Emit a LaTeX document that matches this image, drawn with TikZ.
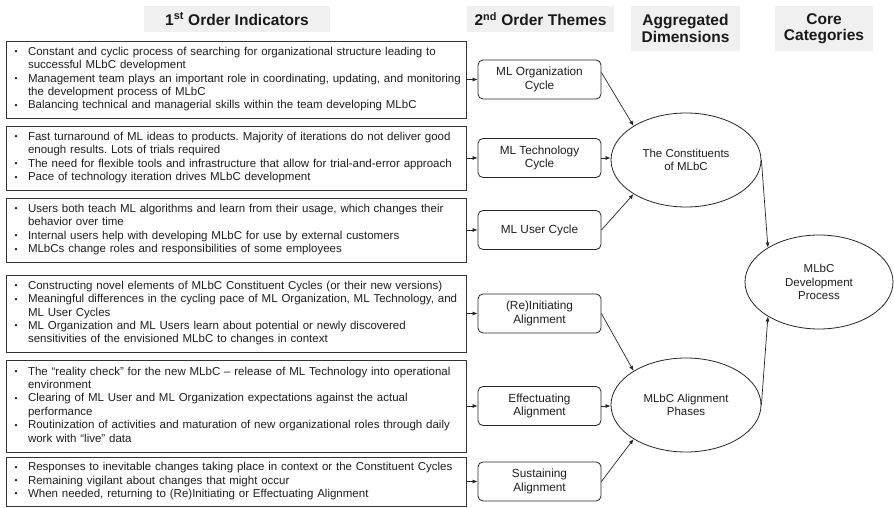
\documentclass[tikz,border=0pt]{standalone}
\usepackage{fontspec}
\setmainfont{Liberation Sans}
\usetikzlibrary{shapes.geometric,arrows.meta,calc}
\frenchspacing

% bullet column for the indicator lists
\newcommand\bu{\makebox[15pt][l]{\hspace{1.5pt}\raisebox{0.6pt}{\scalebox{0.75}{\textbullet}}}}
\newcommand\bulletrows[1]{\begin{tabular}{@{}l@{}l@{}}#1\end{tabular}}

\tikzset{
  ind/.style={draw=black!80, line width=0.8pt, text width=446pt, inner xsep=7pt,
    inner ysep=0pt, align=left, text=black!88,
    font=\fontsize{11.5pt}{13.4pt}\selectfont},
  theme/.style={draw=black!85, line width=0.8pt, rounded corners=5pt,
    minimum width=123pt, minimum height=39pt, inner sep=0pt, align=center,
    text=black!88, font=\fontsize{11.8pt}{13.6pt}\selectfont},
  dim/.style={ellipse, draw=black!85, line width=0.8pt, minimum width=150pt,
    minimum height=94pt, inner sep=0pt, align=center, text=black!88,
    font=\fontsize{11.5pt}{13.6pt}\selectfont},
  hdr/.style={fill=black!6, inner sep=0pt, align=center, text=black!90,
    font=\bfseries\fontsize{15.5pt}{16.5pt}\selectfont},
  arr/.style={-{Latex[length=5pt,width=4pt]}, line width=0.7pt, draw=black!85},
}

\begin{document}
\begin{tikzpicture}[x=1pt,y=-1pt]
\fill[white] (0,0) rectangle (894,508);
\useasboundingbox (0,0) rectangle (894,508);

% column headings
\node[hdr, minimum width=186pt, minimum height=26pt] (h1) at (237,19)
  {1\textsuperscript{st} Order Indicators};
\node[hdr, minimum width=147pt, minimum height=26pt] (h2) at (540.5,19)
  {2\textsuperscript{nd} Order Themes};
\node[hdr, minimum width=109pt, minimum height=45pt] (h3) at (685.5,28.5)
  {Aggregated\\Dimensions};
\node[hdr, minimum width=98pt, minimum height=45pt] (h4) at (824,28.5)
  {Core\\Categories};

% first order indicators
\node[ind, minimum height=77pt] (b1) at (236,79.5) {\bulletrows{
  \bu & Constant and cyclic process of searching for organizational structure leading to\\
      & successful MLbC development\\
  \bu & Management team plays an important role in coordinating, updating, and monitoring\\
      & the development process of MLbC\\
  \bu & Balancing technical and managerial skills within the team developing MLbC}};
\node[ind, minimum height=64pt] (b2) at (236,158) {\bulletrows{
  \bu & Fast turnaround of ML ideas to products. Majority of iterations do not deliver good\\
      & enough results. Lots of trials required\\
  \bu & The need for flexible tools and infrastructure that allow for trial-and-error approach\\
  \bu & Pace of technology iteration drives MLbC development}};
\node[ind, minimum height=64pt] (b3) at (236,230) {\bulletrows{
  \bu & Users both teach ML algorithms and learn from their usage, which changes their\\
      & behavior over time\\
  \bu & Internal users help with developing MLbC for use by external customers\\
  \bu & MLbCs change roles and responsibilities of some employees}};
\node[ind, minimum height=77pt] (b4) at (236,313.5) {\bulletrows{
  \bu & Constructing novel elements of MLbC Constituent Cycles (or their new versions)\\
  \bu & Meaningful differences in the cycling pace of ML Organization, ML Technology, and\\
      & ML User Cycles\\
  \bu & ML Organization and ML Users learn about potential or newly discovered\\
      & sensitivities of the envisioned MLbC to changes in context}};
\node[ind, minimum height=92pt] (b5) at (236,406) {\bulletrows{
  \bu & The “reality check” for the new MLbC – release of ML Technology into operational\\
      & environment\\
  \bu & Clearing of ML User and ML Organization expectations against the actual\\
      & performance\\
  \bu & Routinization of activities and maturation of new organizational roles through daily\\
      & work with “live” data}};
\node[ind, minimum height=49pt] (b6) at (236,481.5) {\bulletrows{
  \bu & Responses to inevitable changes taking place in context or the Constituent Cycles\\
  \bu & Remaining vigilant about changes that might occur\\
  \bu & When needed, returning to (Re)Initiating or Effectuating Alignment}};

% second order themes
\node[theme] (t1) at (539.5,79.5) {ML Organization\\Cycle};
\node[theme] (t2) at (539.5,158) {ML Technology\\Cycle};
\node[theme] (t3) at (539.5,230) {ML User Cycle};
\node[theme] (t4) at (539.5,313.5) {(Re)Initiating\\Alignment};
\node[theme] (t5) at (539.5,406) {Effectuating\\Alignment};
\node[theme] (t6) at (539.5,481.5) {Sustaining\\Alignment};

% aggregated dimensions and core category
\node[dim] (c) at (686,160) {The Constituents\\of MLbC};
\node[dim] (p) at (686,405) {MLbC Alignment\\Phases};
\node[dim, minimum width=148pt] (d) at (819,282) {MLbC\\Development\\Process};

% indicators to themes
\foreach \i in {1,...,6} \draw[arr] (b\i.east) -- (t\i.west);

% themes to dimensions
\draw[arr] ($(t1.east)+(0,-7)$) -- (c.147);
\draw[arr] (t2.east) -- (t2.east -| c.west);
\draw[arr] (t3.east) -- (c.213);
\draw[arr] (t4.east) -- (p.147);
\draw[arr] (t5.east) -- (t5.east -| p.west);
\draw[arr] (t6.east) -- (p.213);

% dimensions to core category
\draw[arr] (c.east) -- (d.146);
\draw[arr] (p.east) -- (d.214);
\end{tikzpicture}
\end{document}
